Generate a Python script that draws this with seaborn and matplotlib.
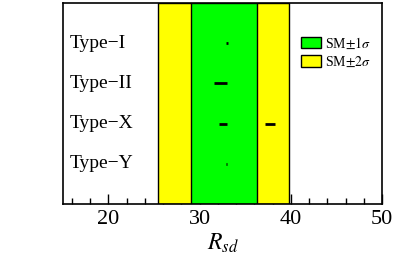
import matplotlib
matplotlib.use("Agg")
import matplotlib.pyplot as plt
import seaborn as sns
import pandas as pd
from matplotlib.patches import Patch
from matplotlib.ticker import MultipleLocator

# Modelos e faixas permitidas de R_sd (segmentos horizontais)
types = ["Type\u2212I", "Type\u2212II", "Type\u2212X", "Type\u2212Y"]
seg_type = ["Type\u2212I", "Type\u2212II", "Type\u2212X", "Type\u2212X", "Type\u2212Y"]
seg_lo = [32.9, 31.6, 32.1, 37.2, 32.85]
seg_hi = [33.1, 33.0, 33.0, 38.3, 32.95]

# Bandas do SM
sm_1s = (29.1, 36.3)
sm_2s = (25.4, 39.8)

sns.set_style("white")
plt.rcParams["font.family"] = ["Liberation Serif", "DejaVu Serif"]
plt.rcParams["mathtext.fontset"] = "stix"
plt.rcParams["text.color"] = "black"
plt.rcParams["axes.labelcolor"] = "black"
plt.rcParams["xtick.color"] = "black"
plt.rcParams["axes.edgecolor"] = "black"

df = pd.DataFrame({"tipo": seg_type, "lo": seg_lo, "hi": seg_hi})
ypos = {t: i + 1 for i, t in enumerate(types)}
df["y"] = df["tipo"].map(ypos)

fig = plt.figure(figsize=(3.98, 2.66), dpi=100)
ax = fig.add_axes([0.158, 0.233, 0.802, 0.756])

ax.axvspan(*sm_2s, color="#ffff00", ec="black", lw=1.0, zorder=1)
ax.axvspan(*sm_1s, color="#00ff00", ec="black", lw=1.0, zorder=2)

ax.hlines(df["y"], df["lo"], df["hi"], color="black", lw=2, zorder=3)

for t in types:
    ax.text(15.8, ypos[t], t, fontsize=14, va="center", ha="left", color="black")

ax.set_xlim(15, 50)
ax.set_ylim(5, 0)
ax.set_yticks([])
ax.xaxis.set_major_locator(MultipleLocator(10))
ax.xaxis.set_minor_locator(MultipleLocator(2))
ax.tick_params(axis="x", which="both", direction="in", bottom=True, top=False,
               labelsize=16, pad=4, colors="black")
ax.tick_params(axis="x", which="major", length=7, width=1)
ax.tick_params(axis="x", which="minor", length=4, width=1)
for s in ax.spines.values():
    s.set_linewidth(1.2)
    s.set_color("black")
ax.set_xlabel(r"$R_{sd}$", fontsize=17, labelpad=2, color="black")

handles = [Patch(fc="#00ff00", ec="black", label=r"SM$\pm1\sigma$"),
           Patch(fc="#ffff00", ec="black", label=r"SM$\pm2\sigma$")]
ax.legend(handles=handles, loc="upper right", bbox_to_anchor=(0.99, 0.88), frameon=False,
          fontsize=10, handlelength=1.4, handleheight=0.9, handletextpad=0.3, labelspacing=0.3,
          borderaxespad=0.2, labelcolor="black")

fig.savefig("out.png", dpi=100)
